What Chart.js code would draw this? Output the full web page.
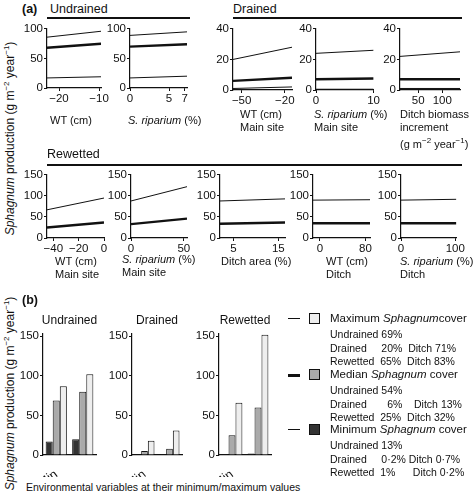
<!DOCTYPE html><html><head><meta charset="utf-8">
<script src="https://cdn.jsdelivr.net/npm/chart.js"></script>
<style>
body{margin:0;background:#fff;font-family:"Liberation Sans",Arial,sans-serif;color:#111}
#w{position:relative;width:474px;height:495px;overflow:hidden}
.t{position:absolute;font-size:11.5px;white-space:nowrap;line-height:13px}
.c{position:absolute}
.hl{position:absolute;height:2px;background:#111}
i{font-style:italic}
</style></head><body><div id="w"></div>
<script>
// ---- data: panel (a) lines [start,end] per series ----
const panelNames=["U_WT","U_Srip","D_WT","D_Srip","D_Ditch","R_WT","R_Srip","R_DitchArea","R_WTDitch","R_SripDitch"];
const xRanges=[[-23,-9.5],[0,7.3],[-56,-15],[0,10],[12,137],[-45,0],[0,53],[2,16.5],[-12,88],[0,102]];
const xTicks=[[-20,-10],[0,5,7],[-50,-20],[0,10],[50,100],[-40,-20,0],[0,50],[5,15],[0,80],[0,100]];
const yTicksTop=[0,50,100];const yTicksDr=[0,20,40];const yTicksRw=[0,50,100,150];
const maxCover=[[86,96],[89,95],[20,28],[24,26],[22,25],[67,95],[88,122],[88,93],[90,91],[90,92]];
const medCover=[[68,75],[70,74],[6,8],[7,7.5],[7,7],[25,37],[33,46],[34,37],[35,35],[35,35]];
const minCover=[[17,19],[17,20],[1,2],[0.5,0.5],[1,1],[1,1],[1,1],[1,1],[0.5,0.5],[0.5,0.5]];
// ---- data: panel (b) bars ----
const barCats=["Min","Max"];
const groups=["Undrained","Drained","Rewetted"];
const barMin=[[17,20],[0.3,1],[1,2]];
const barMed=[[69,80],[5,8],[25,60]];
const barMax=[[87,102],[18,31],[66,152]];

const W=document.getElementById('w');
function txt(x,y,h,extra){const d=document.createElement('div');d.className='t';d.style.left=x+'px';d.style.top=y+'px';d.innerHTML=h;if(extra)Object.assign(d.style,extra);W.appendChild(d);return d;}
function hl(x,y,w){const d=document.createElement('div');d.className='hl';Object.assign(d.style,{left:x+'px',top:y+'px',width:w+'px'});W.appendChild(d);}
const F={family:"Liberation Sans",size:11.5};
const YW=24,PT=6,PR=6;
function box(l,t,w,h,XH){const d=document.createElement('div');d.className='c';Object.assign(d.style,{left:(l-YW)+'px',top:(t-PT)+'px',width:(w+YW+PR)+'px',height:(h+PT+XH)+'px'});const c=document.createElement('canvas');d.appendChild(c);W.appendChild(d);return c;}
function axes(yt,ymax,XH){return{
 x:{type:'linear',grid:{display:true,drawOnChartArea:false,tickLength:3,color:'#111'},border:{color:'#111',width:1.2},ticks:{font:F,color:'#111',padding:1,maxRotation:0},afterFit:s=>{s.height=XH}},
 y:{min:0,max:ymax,grid:{display:true,drawOnChartArea:false,tickLength:3,color:'#111'},border:{color:'#111',width:1.2},ticks:{font:F,color:'#111',padding:1},afterBuildTicks:s=>{s.ticks=yt.map(v=>({value:v}))},afterFit:s=>{s.width=YW}}};}
const rects=[[47,27,57,61],[130,27,57,61],[233,27,59,63],[316,27,59,63],[400,27,60,63],[47,173,57,65],[131,173,56,65],[220,173,65,65],[313,173,57,65],[401,173,59,65]];
panelNames.forEach((n,i)=>{
 const [l,t,w,h]=rects[i];const c=box(l,t,w,h,17);
 const yt=i<2?yTicksTop:(i<5?yTicksDr:yTicksRw);const ym=i<2?100:(i<5?40:150);
 const r=xRanges[i];
 const ds=[[maxCover[i],1],[medCover[i],2.4],[minCover[i],1]].map(([v,bw])=>({data:[{x:r[0],y:v[0]},{x:r[1],y:v[1]}],borderColor:'#111',borderWidth:bw,pointRadius:0}));
 const sc=axes(yt,ym,17);sc.x.min=r[0];sc.x.max=r[1];const xt=xTicks[i];sc.x.afterBuildTicks=s=>{s.ticks=xt.map(v=>({value:v}))};
 sc.x.ticks.callback=v=>String(v).replace('-','\u2212');
 new Chart(c,{type:'line',data:{datasets:ds},options:{responsive:true,maintainAspectRatio:false,animation:false,layout:{padding:{top:PT,right:PR}},plugins:{legend:{display:false},tooltip:{enabled:false}},scales:sc}});
});
// bars
const brects=[[43,332,53,123],[132,332,50,123],[219,332,52,123]];
groups.forEach((g,i)=>{
 const [l,t,w,h]=brects[i];const c=box(l,t,w,h,22);
 const sc=axes([0,50,100,150],153,22);
 sc.x={type:'category',offset:true,grid:{display:false},border:{color:'#111',width:1.2},ticks:{font:{family:"Liberation Sans",size:12.5},color:'#111',padding:4},afterFit:s=>{s.height=22}};
 const mk=(d,col)=>({data:d,backgroundColor:col,borderColor:'#111',borderWidth:1,barPercentage:1,categoryPercentage:0.8});
 new Chart(c,{type:'bar',data:{labels:barCats,datasets:[mk(barMin[i],'#333'),mk(barMed[i],'#aaa'),mk(barMax[i],'#eee')]},options:{responsive:true,maintainAspectRatio:false,animation:false,layout:{padding:{top:PT,right:PR}},plugins:{legend:{display:false},tooltip:{enabled:false}},scales:sc}});
 txt(l+w/2-28,314,g,{width:'56px',textAlign:'center',fontSize:'12px'});
});
// text
txt(22,3,'<b>(a)</b>',{fontSize:'12.5px'});txt(50,3,'Undrained',{fontSize:'12.5px'});hl(47,17,143);
txt(233,3,'Drained',{fontSize:'12.5px'});hl(233,17,229);
txt(47,148,'Rewetted',{fontSize:'12.5px'});hl(47,164,415);
txt(22,294,'<b>(b)</b>',{fontSize:'12.5px'});
const rot=(y,h)=>txt(-97,y,h,{transform:'rotate(-90deg)',width:'210px',textAlign:'center',fontSize:'12px'});
rot(130,'<i>Sphagnum</i> production (g m<sup style="font-size:8px">−2</sup> year<sup style="font-size:8px">−1</sup>)');
rot(385,'<i>Sphagnum</i> production (g m<sup style="font-size:8px">−2</sup> year<sup style="font-size:8px">−1</sup>)');
const lab=[[50,114,'WT (cm)'],[128,114,'<i>S. riparium</i> (%)'],[240,108,'WT (cm)<br>Main site'],[314,108,'<i>S. riparium</i> (%)<br>Main site'],[400,108,'Ditch biomass<br>increment<br>(g m<sup style="font-size:8px">−2</sup> year<sup style="font-size:8px">−1</sup>)'],
[55,255,'WT (cm)<br>Main site'],[122,253,'<i>S. riparium</i> (%)<br>Main site'],[221,255,'Ditch area (%)'],[326,255,'WT (cm)<br>Ditch'],[400,255,'<i>S. riparium</i> (%)<br>Ditch']];
lab.forEach(([x,y,h])=>txt(x,y,h,{fontSize:'11px'}));
txt(26,481,'Environmental variables at their minimum/maximum values',{fontSize:'10.5px'});
// legend b
function leg(y,thick,col,h){const d=document.createElement('div');Object.assign(d.style,{position:'absolute',left:'288px',top:(y+6)+'px',width:'12px',height:thick+'px',background:'#111'});W.appendChild(d);
 const b=document.createElement('div');Object.assign(b.style,{position:'absolute',left:'309px',top:(y+1)+'px',width:'9px',height:'9px',background:col,border:'1px solid #111'});W.appendChild(b);txt(330,y,h,{fontSize:'11.5px'});}
const ls={fontSize:'10.5px',lineHeight:'13.5px'};
leg(312,1,'#eee','Maximum <i>Sphagnum</i>cover');
txt(330,328,'Undrained 69%<br>Drained &nbsp;&nbsp;&nbsp;&nbsp;20% &nbsp;Ditch 71%<br>Rewetted &nbsp;65% &nbsp;Ditch 83%',ls);
leg(368,2.5,'#aaa','Median <i>Sphagnum</i> cover');
txt(330,384,'Undrained 54%<br>Drained &nbsp;&nbsp;&nbsp;&nbsp;&nbsp;&nbsp;6% &nbsp;&nbsp;&nbsp;Ditch 13%<br>Rewetted &nbsp;25% &nbsp;Ditch 32%',ls);
leg(423,1,'#333','Minimum <i>Sphagnum</i> cover');
txt(330,439,'Undrained 13%<br>Drained &nbsp;&nbsp;&nbsp;&nbsp;0·2% Ditch 0·7%<br>Rewetted &nbsp;1% &nbsp;&nbsp;&nbsp;&nbsp;&nbsp;Ditch 0·2%',ls);
</script></body></html>
